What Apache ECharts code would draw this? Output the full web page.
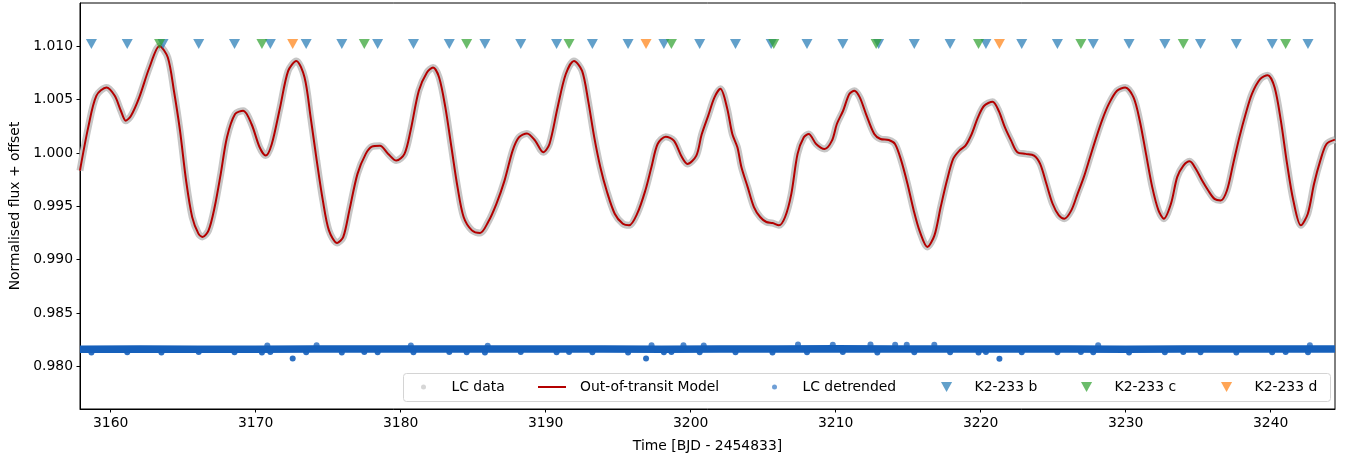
<!DOCTYPE html>
<html>
<head>
<meta charset="utf-8">
<script src="https://cdn.jsdelivr.net/npm/echarts@6/dist/echarts.min.js"></script>
<style>html,body{margin:0;padding:0;background:#fff;}#chart{width:1350px;height:460px;}</style>
</head>
<body>
<div id="chart"></div>
<script>
// ---- data ----
const modelTime = [3157.88,3158.45,3159.01,3159.71,3160.28,3160.70,3161.04,3161.40,3161.97,3162.67,3163.37,3163.94,3164.36,3164.78,3165.20,3165.62,3166.05,3166.33,3166.75,3167.17,3167.59,3168.02,3168.58,3169.14,3169.71,3170.27,3170.69,3171.11,3171.68,3172.24,3172.80,3173.37,3173.79,3174.21,3174.63,3175.05,3175.62,3176.04,3176.46,3177.02,3177.59,3178.01,3178.57,3179.14,3179.70,3180.26,3180.68,3181.25,3181.81,3182.23,3182.65,3183.08,3183.50,3183.92,3184.34,3184.91,3185.47,3186.03,3186.60,3187.16,3187.72,3188.15,3188.71,3189.27,3189.83,3190.26,3190.82,3191.38,3191.95,3192.51,3192.93,3193.35,3193.77,3194.20,3194.76,3195.32,3195.75,3196.31,3196.87,3197.29,3197.72,3198.28,3198.84,3199.40,3199.77,3200.39,3200.75,3201.21,3201.64,3202.05,3202.50,3202.87,3203.22,3203.50,3203.93,3204.36,3204.79,3205.22,3205.65,3206.08,3206.51,3206.94,3207.37,3207.80,3208.14,3208.65,3209.23,3209.74,3210.08,3210.51,3210.94,3211.29,3211.66,3212.09,3212.66,3213.09,3213.66,3214.09,3214.52,3214.95,3215.38,3215.81,3216.32,3216.81,3217.24,3217.67,3218.10,3218.53,3218.95,3219.38,3219.81,3220.24,3220.82,3221.24,3221.67,3222.10,3222.53,3223.10,3223.68,3224.10,3224.53,3224.96,3225.39,3225.77,3226.25,3226.68,3227.11,3227.54,3227.97,3228.40,3228.83,3229.40,3229.97,3230.54,3230.97,3231.40,3231.83,3232.26,3232.63,3233.12,3233.55,3233.98,3234.41,3234.84,3235.27,3235.69,3236.12,3236.55,3236.98,3237.41,3237.84,3238.27,3238.70,3239.27,3239.79,3240.27,3240.70,3241.13,3241.56,3242.08,3242.56,3242.99,3243.42,3243.85,3244.43];
const modelFlux = [0.99835,1.00239,1.00535,1.00613,1.00535,1.00395,1.00302,1.00348,1.00520,1.00800,1.01002,1.00893,1.00582,1.00208,0.99741,0.99399,0.99244,0.99213,0.99275,0.99493,0.99804,1.00146,1.00364,1.00395,1.00271,1.00053,0.99975,1.00084,1.00426,1.00768,1.00862,1.00706,1.00333,0.99928,0.99555,0.99275,0.99157,0.99213,0.99462,0.99804,0.99991,1.00059,1.00068,0.99991,0.99928,0.99991,1.00208,1.00582,1.00753,1.00800,1.00706,1.00426,1.00053,0.99680,0.99400,0.99275,0.99250,0.99353,0.99524,0.99741,1.00022,1.00146,1.00183,1.00115,1.00006,1.00084,1.00426,1.00737,1.00862,1.00768,1.00488,1.00146,0.99866,0.99648,0.99431,0.99337,0.99322,0.99431,0.99648,0.99866,1.00084,1.00152,1.00115,0.99959,0.99897,0.99975,1.00170,1.00350,1.00520,1.00600,1.00426,1.00177,1.00053,0.99866,0.99680,0.99493,0.99400,0.99353,0.99343,0.99322,0.99400,0.99617,0.99991,1.00146,1.00177,1.00084,1.00037,1.00115,1.00271,1.00395,1.00551,1.00582,1.00520,1.00364,1.00177,1.00130,1.00121,1.00084,0.99928,0.99711,0.99462,0.99260,0.99120,0.99228,0.99493,0.99741,0.99944,1.00022,1.00068,1.00177,1.00333,1.00442,1.00479,1.00395,1.00239,1.00115,1.00006,0.99991,0.99975,0.99897,0.99711,0.99524,0.99415,0.99384,0.99462,0.99617,0.99773,0.99960,1.00146,1.00317,1.00457,1.00582,1.00613,1.00520,1.00302,0.99991,0.99680,0.99462,0.99384,0.99524,0.99773,0.99882,0.99922,0.99850,0.99741,0.99648,0.99570,0.99555,0.99648,0.99897,1.00146,1.00364,1.00551,1.00691,1.00728,1.00613,1.00302,0.99897,0.99555,0.99322,0.99431,0.99711,0.99928,1.00084,1.00125];
// LC data (grey) follows the same curve
const lcTime = modelTime;
const lcFlux = modelFlux;

// detrended light curve baseline
const detTime = [3157.88,3162,3166,3170,3174,3178,3182,3186,3190,3194,3198,3202,3206,3210,3214,3218,3222,3226,3230,3234,3238,3242,3244.43];
const detFlux = [0.98162,0.98163,0.98162,0.98161,0.98164,0.98163,0.98164,0.98163,0.98164,0.98163,0.98162,0.98164,0.98165,0.98166,0.98165,0.98164,0.98163,0.98163,0.98162,0.98163,0.98164,0.98163,0.98164];
// in-transit dips of the detrended curve
const dipTime = [3158.67,3161.14,3163.50,3166.07,3168.54,3170.43,3171.01,3172.55,3173.48,3175.94,3177.49,3178.41,3180.88,3183.35,3184.55,3185.81,3188.28,3190.75,3191.61,3193.22,3195.68,3196.92,3198.15,3198.67,3200.62,3203.09,3205.64,3208.02,3210.49,3212.87,3215.42,3217.89,3219.85,3220.36,3221.29,3222.83,3225.29,3226.91,3227.76,3230.23,3232.70,3233.97,3235.16,3237.63,3240.10,3241.03,3242.57];
const dipFlux = [0.98132,0.98134,0.98132,0.98136,0.98134,0.98132,0.98136,0.98076,0.98134,0.98132,0.98136,0.98134,0.98134,0.98136,0.98134,0.98132,0.98136,0.98134,0.98136,0.98134,0.98132,0.98074,0.98134,0.98136,0.98134,0.98134,0.98132,0.98134,0.98136,0.98132,0.98134,0.98134,0.98132,0.98136,0.98072,0.98134,0.98134,0.98136,0.98134,0.98132,0.98134,0.98136,0.98134,0.98132,0.98134,0.98136,0.98134];
// scattered high points of the detrended curve
const noiseTime = [3170.8,3174.2,3180.7,3186.0,3197.3,3199.5,3200.9,3207.4,3209.8,3212.4,3214.1,3214.9,3216.8,3228.1,3242.7];
const noiseFlux = [0.98196,0.98198,0.98196,0.98195,0.98198,0.98200,0.98196,0.98206,0.98203,0.98206,0.98204,0.98203,0.98204,0.98198,0.98200];

// transit epochs
const transitB = [3158.67,3161.14,3163.61,3166.07,3168.54,3171.01,3173.48,3175.94,3178.41,3180.88,3183.35,3185.81,3188.28,3190.75,3193.22,3195.68,3198.15,3200.62,3203.09,3205.55,3208.02,3210.49,3212.96,3215.42,3217.89,3220.36,3222.83,3225.29,3227.76,3230.23,3232.70,3235.16,3237.63,3240.10,3242.57];
const transitC = [3163.37,3170.43,3177.49,3184.55,3191.61,3198.67,3205.73,3212.79,3219.85,3226.91,3233.97,3241.03];
const transitD = [3172.55,3196.92,3221.29];
const markerLevel = 1.0102;

const xTicks = [3160,3170,3180,3190,3200,3210,3220,3230,3240];
const yTicks = [0.980,0.985,0.990,0.995,1.000,1.005,1.010];

// ---- chart ----
const zip = (a, b) => a.map((v, i) => [v, b[i]]);
const atLevel = (a) => a.map(v => [v, markerLevel]);

const FONT = 'DejaVu Sans';
const FS = 13.9;
const chart = echarts.init(document.getElementById('chart'), null, {renderer: 'canvas'});

const triPath = 'path://M0,0 L10,0 L5,9 Z';
function legendAt(left, name, icon, h, color) {
  return {
    show: true, left: left, top: 380, padding: 0, orient: 'horizontal',
    itemWidth: 28, itemHeight: h, selectedMode: false,
    data: [{name: name, icon: icon, itemStyle: {color: color, opacity: 1}}],
    textStyle: {fontFamily: FONT, fontSize: FS, color: '#000', padding: [0, 0, 0, 9]}
  };
}

const option = {
  animation: false,
  backgroundColor: '#fff',
  grid: {left: 80, top: 3, width: 1255, height: 406, show: true, borderColor: '#000', borderWidth: 1, backgroundColor: 'transparent'},
  xAxis: {
    type: 'value', min: 3157.883, max: 3244.434,
    name: 'Time [BJD - 2454833]', nameLocation: 'middle', nameGap: 30,
    nameTextStyle: {fontFamily: FONT, fontSize: FS, color: '#000'},
    axisLine: {show: true, onZero: false, lineStyle: {color: '#000', width: 1}},
    axisTick: {show: true, inside: false, length: 3.5, customValues: xTicks, lineStyle: {color: '#000', width: 1}},
    axisLabel: {show: true, margin: 7, customValues: xTicks, fontFamily: FONT, fontSize: FS, color: '#000', formatter: v => String(Math.round(v))},
    splitLine: {show: false}
  },
  yAxis: {
    type: 'value', min: 0.97602, max: 1.01404,
    name: 'Normalised flux + offset', nameLocation: 'middle', nameGap: 58,
    nameTextStyle: {fontFamily: FONT, fontSize: FS, color: '#000'},
    axisLine: {show: true, onZero: false, lineStyle: {color: '#000', width: 1}},
    axisTick: {show: true, inside: false, length: 3.5, customValues: yTicks, lineStyle: {color: '#000', width: 1}},
    axisLabel: {show: true, margin: 7, customValues: yTicks, fontFamily: FONT, fontSize: FS, color: '#000', formatter: v => v.toFixed(3)},
    splitLine: {show: false}
  },
  legend: [
    legendAt(421, 'LC data', 'circle', 5, '#d6d6d6'),
    legendAt(538, 'Out-of-transit Model', 'rect', 2, '#b40000'),
    legendAt(772, 'LC detrended', 'circle', 5, '#6f9fd6'),
    legendAt(941, 'K2-233 b', triPath, 10, '#62a0ca'),
    legendAt(1081, 'K2-233 c', triPath, 10, '#6bbc6b'),
    legendAt(1221, 'K2-233 d', triPath, 10, '#ffa556')
  ],
  graphic: [{
    type: 'rect', z: 3, silent: true,
    shape: {x: 403.5, y: 373.5, width: 927, height: 28, r: 3},
    style: {fill: 'rgba(255,255,255,0.85)', stroke: '#d4d4d4', lineWidth: 1}
  }],
  series: [
    {name: 'LC data', type: 'line', data: zip(lcTime, lcFlux), smooth: 0.3, showSymbol: false, symbol: 'none',
     lineStyle: {color: '#c6c6c6', width: 7}, itemStyle: {color: '#c6c6c6'}, z: 1},
    {name: 'Out-of-transit Model', type: 'line', data: zip(modelTime, modelFlux), smooth: 0.3, showSymbol: false, symbol: 'none',
     lineStyle: {color: '#b40000', width: 2}, itemStyle: {color: '#b40000'}, z: 2},
    {name: 'LC detrended', type: 'line', data: zip(detTime, detFlux), showSymbol: false, symbol: 'none',
     lineStyle: {color: '#1660bb', width: 7.5}, itemStyle: {color: '#1660bb'}, z: 2},
    {name: 'LC detrended', type: 'scatter', data: zip(dipTime, dipFlux), symbol: 'circle', symbolSize: 6,
     itemStyle: {color: '#1660bb', opacity: 0.9}, z: 2},
    {name: 'LC detrended', type: 'scatter', data: zip(noiseTime, noiseFlux), symbol: 'circle', symbolSize: 6,
     itemStyle: {color: '#1660bb', opacity: 0.75}, z: 2},
    {name: 'K2-233 b', type: 'scatter', data: atLevel(transitB), symbol: 'triangle', symbolRotate: 180, symbolSize: [11, 10],
     itemStyle: {color: '#1f77b4', opacity: 0.7}, z: 5},
    {name: 'K2-233 c', type: 'scatter', data: atLevel(transitC), symbol: 'triangle', symbolRotate: 180, symbolSize: [11, 10],
     itemStyle: {color: '#2ca02c', opacity: 0.7}, z: 5},
    {name: 'K2-233 d', type: 'scatter', data: atLevel(transitD), symbol: 'triangle', symbolRotate: 180, symbolSize: [11, 10],
     itemStyle: {color: '#ff7f0e', opacity: 0.7}, z: 5}
  ]
};
chart.setOption(option);
</script>
</body>
</html>
